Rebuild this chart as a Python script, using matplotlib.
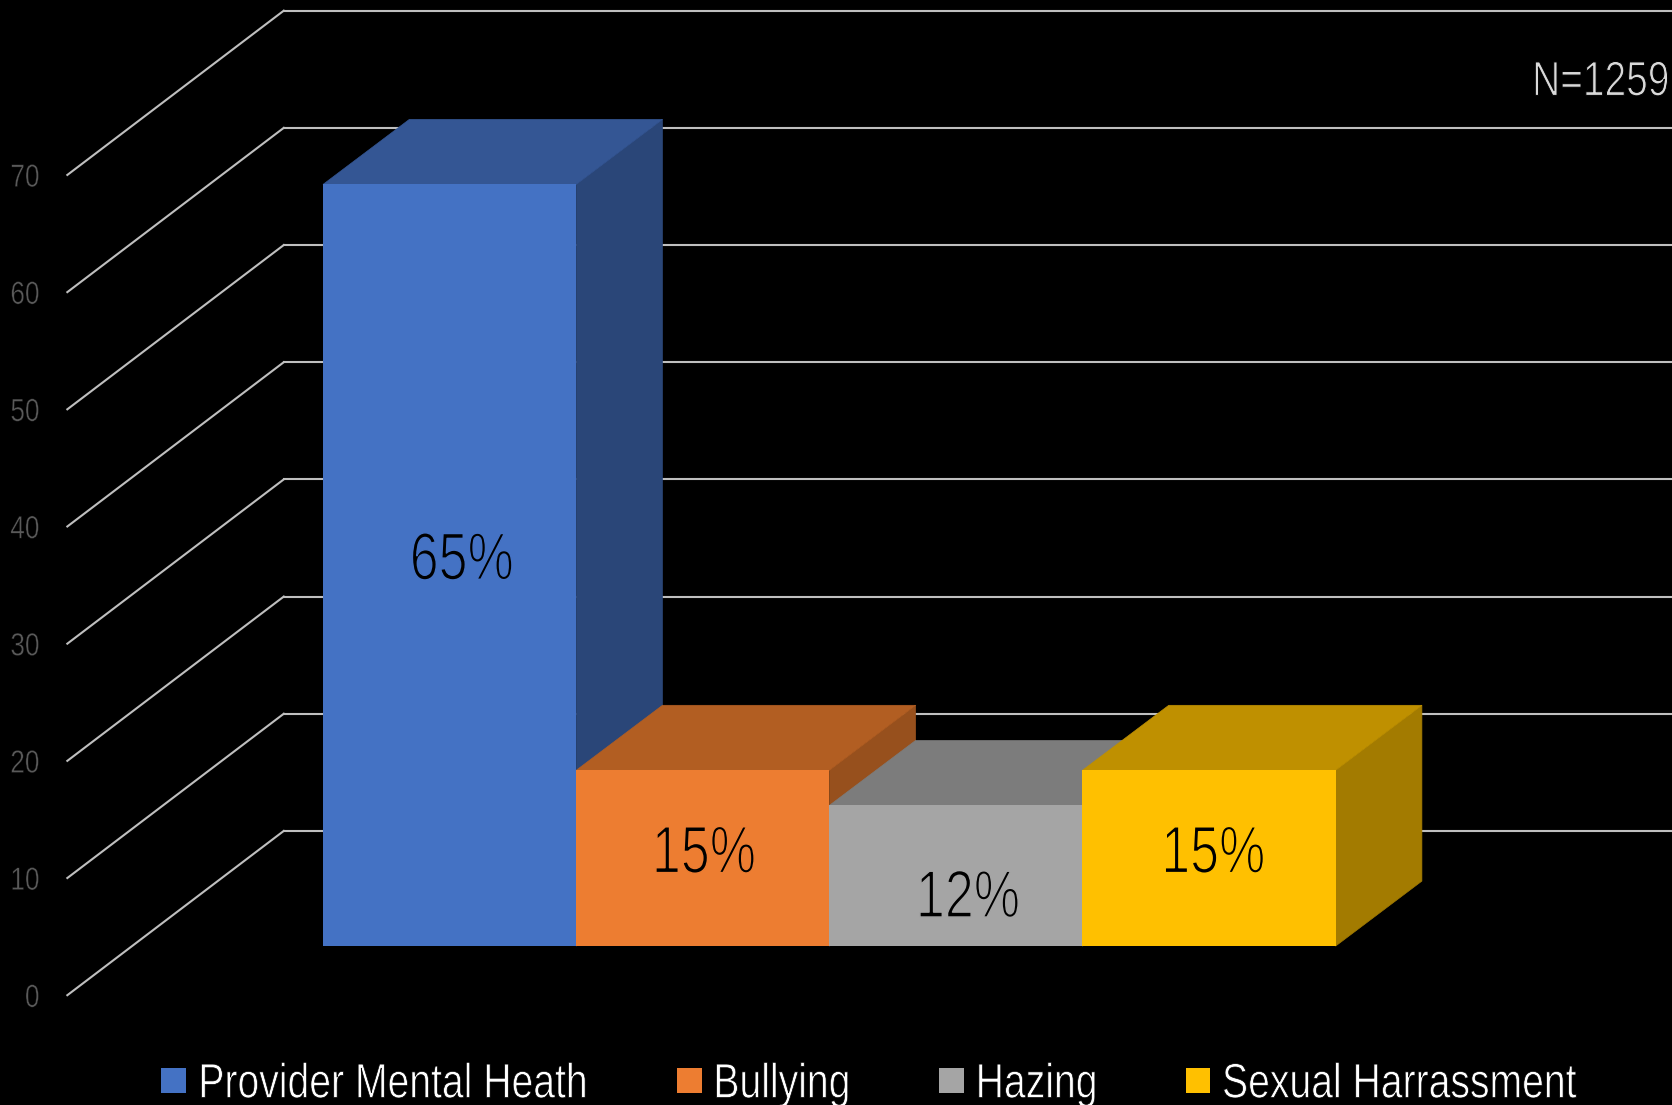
import matplotlib
matplotlib.use("Agg")
import matplotlib.pyplot as plt
from matplotlib.patches import Polygon, Rectangle
from matplotlib.patheffects import AbstractPathEffect
from matplotlib.transforms import Affine2D

# Values
categories = ["Provider Mental Heath", "Bullying", "Hazing", "Sexual Harrassment"]
values = [65, 15, 12, 15]
labels = ["65%", "15%", "12%", "15%"]
front_colors = ["#4472C4", "#ED7D31", "#A5A5A5", "#FFC000"]
top_colors = ["#345694", "#B25E22", "#7C7C7C", "#BF9000"]
side_colors = ["#2A4678", "#97501D", "#696969", "#A37B00"]
ticks = [0, 10, 20, 30, 40, 50, 60, 70]

plt.rcParams["font.family"] = ["Liberation Sans", "DejaVu Sans"]

# 3D look: the depth of the floor and of the bars, in data units
BAR_DX, BAR_DY = 0.341, 5.55
WALL_X0, WALL_X1 = -1.51, -0.655
WALL_Y0, WALL_Y1 = -4.19, 9.83


# the reference font is narrow and light: squeeze the glyphs around the text anchor,
# then thin them with a stroke in the colour behind the text
class Squeeze(AbstractPathEffect):
    def __init__(self, text, sx, back, thin):
        super().__init__()
        self.text = text
        self.sx = sx
        self.back = back
        self.thin = thin

    def draw_path(self, renderer, gc, tpath, affine, rgbFace=None):
        cx = self.text.get_transform().transform(self.text.get_position())[0]
        squeezed = affine + Affine2D().translate(-cx, 0).scale(self.sx, 1).translate(cx, 0)
        gc0 = renderer.new_gc()
        gc0.copy_properties(gc)
        gc0.set_foreground(self.back)
        gc0.set_linewidth(self.thin)
        renderer.draw_path(gc0, tpath, squeezed, rgbFace)
        gc0.restore()


def narrow_text(ax, x, y, s, sx, back="black", thin=0.6, **kw):
    t = ax.text(x, y, s, **kw)
    t.set_path_effects([Squeeze(t, sx, back, thin)])
    return t


fig = plt.figure(figsize=(16.72, 11.05), dpi=100, facecolor="black")
ax = fig.add_axes([0, 0, 1, 1])
ax.set_facecolor("black")
ax.set_xlim(-1.776, 4.829)
ax.set_ylim(-13.56, 80.74)
ax.axis("off")

# wall and back grid lines, one step above the labelled value
for t in ticks:
    ax.plot([WALL_X0, WALL_X1], [WALL_Y0 + t, WALL_Y1 + t], color="#BFBFBF", lw=1.5, zorder=1)
    ax.plot([WALL_X1, 4.9], [WALL_Y1 + t, WALL_Y1 + t], color="#BFBFBF", lw=1.5, zorder=1)
    narrow_text(ax, -1.62, WALL_Y0 + t - 1.0, str(t), 0.82, thin=0.3, color="#595959",
                fontsize=23, ha="right", va="baseline")

# bars, drawn left to right so later ones cover earlier sides
for i, v in enumerate(values):
    l, r = i - 0.5, i + 0.5
    ax.add_patch(Polygon([(r, 0), (r + BAR_DX, BAR_DY), (r + BAR_DX, v + BAR_DY), (r, v)],
                         facecolor=side_colors[i], edgecolor=side_colors[i], lw=0.5, zorder=2 + i))
    ax.add_patch(Polygon([(l, v), (l + BAR_DX, v + BAR_DY), (r + BAR_DX, v + BAR_DY), (r, v)],
                         facecolor=top_colors[i], edgecolor=top_colors[i], lw=0.5, zorder=2 + i))
    ax.bar(i, v, width=1.0, color=front_colors[i], zorder=2 + i)

label_x = [0.048, 0.005, 0.048, 0.017]
label_y = [31.3, 6.27, 2.48, 6.27]
for i, s in enumerate(labels):
    narrow_text(ax, i + label_x[i], label_y[i], s, 0.78, back=front_colors[i], thin=1.1,
                color="black", fontsize=48, ha="center", va="baseline", zorder=10)

narrow_text(ax, 4.82, 72.6, "N=1259", 0.8, thin=0.7, color="#D9D9D9", fontsize=35,
            ha="right", va="baseline", zorder=10)

# legend by hand, because the squeezed labels would throw off a real legend's spacing
legend_sq = [151, 635, 881, 1112]
legend_tx = [186, 669, 915, 1146]
for name, c, sq, tx in zip(categories, front_colors, legend_sq, legend_tx):
    ax.add_patch(Rectangle((sq / 1568, 11 / 1036), 23 / 1568, 24 / 1036, facecolor=c,
                           edgecolor="none", transform=ax.transAxes, zorder=10))
    narrow_text(ax, tx / 1568, 7 / 1036, name, 0.805, thin=0.5, color="white", fontsize=35,
                ha="left", va="baseline", transform=ax.transAxes, zorder=10)

fig.savefig("out.png", dpi=100, facecolor="black")
